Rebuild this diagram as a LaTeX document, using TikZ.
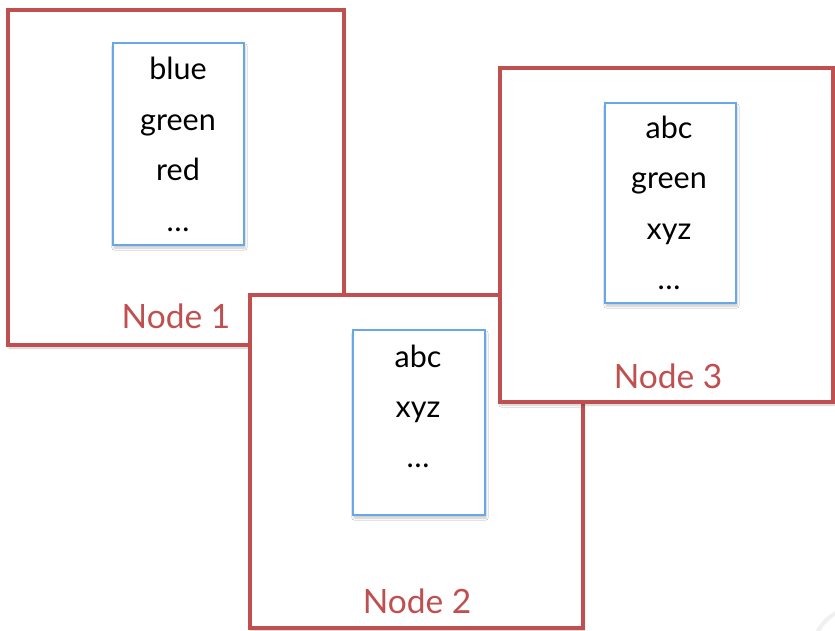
\documentclass[tikz,border=0pt]{standalone}
\usepackage{fontspec}
\setmainfont{Lato}
\usetikzlibrary{shadows.blur}
\definecolor{boxred}{RGB}{192,80,80}
\definecolor{listblue}{RGB}{104,168,230}

\begin{document}
\begin{tikzpicture}[x=1pt,y=-1pt,
  outer/.style={draw=boxred,line width=3.2pt,fill=white,inner sep=0pt,
    blur shadow={shadow blur steps=6,shadow xshift=1pt,shadow yshift=-3pt,shadow opacity=22}},
  inner/.style={draw=listblue,line width=2.6pt,fill=white,inner sep=0pt,
    blur shadow={shadow blur steps=6,shadow xshift=1pt,shadow yshift=-3pt,shadow opacity=22}},
  entry/.style={anchor=base,font=\fontsize{30.5}{36}\selectfont},
  nodetitle/.style={anchor=base,text=boxred,font=\fontsize{33.5}{40}\selectfont}]
  \useasboundingbox (0,0) rectangle (835,631);
  \begin{scope}
    \clip (0,0) rectangle (835,631);
    \draw[gray!12,line width=4pt] (860,655) circle (48.5);
  \end{scope}
  \node[outer,minimum width=336,minimum height=335] (box1) at (176,177.5) {};
  \node[inner,minimum width=131,minimum height=202] (list1) at (178.5,144) {};
  \foreach \w [count=\i from 0] in {blue,green,red,\ldots}
    \node[entry] (a\i) at (178,80+50.5*\i) {\w};
  \node[nodetitle] (t1) at (176,328) {Node 1};
  \node[outer,minimum width=333,minimum height=333] (box2) at (416.5,461.5) {};
  \node[inner,minimum width=132,minimum height=185] (list2) at (419,422.5) {};
  \foreach \w [count=\i from 0] in {abc,xyz,\ldots}
    \node[entry] (b\i) at (418,367+50*\i) {\w};
  \node[nodetitle] (t2) at (417,613) {Node 2};
  \node[outer,minimum width=333,minimum height=334] (box3) at (666.5,235) {};
  \node[inner,minimum width=131,minimum height=200] (list3) at (670.5,203) {};
  \foreach \w [count=\i from 0] in {abc,green,xyz,\ldots}
    \node[entry] (c\i) at (669,139+50*\i) {\w};
  \node[nodetitle] (t3) at (668,388) {Node 3};
\end{tikzpicture}
\end{document}
